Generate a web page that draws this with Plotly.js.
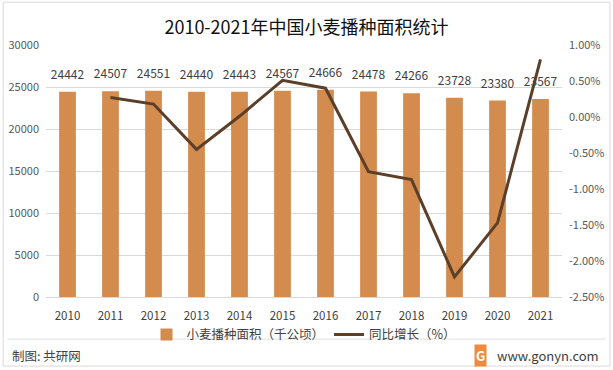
<!DOCTYPE html>
<html><head><meta charset="utf-8">
<script src="https://cdn.plot.ly/plotly-3.0.1.min.js"></script>
<style>html,body{margin:0;padding:0;background:#fff;}#c{width:613px;height:370px;}</style>
</head><body><div id="c"></div>
<script>
const years = ['2010','2011','2012','2013','2014','2015','2016','2017','2018','2019','2020','2021'];
const area = [24442,24507,24551,24440,24443,24567,24666,24478,24266,23728,23380,23567];
const growthYears = ['2011','2012','2013','2014','2015','2016','2017','2018','2019','2020','2021'];
const growth = [0.27,0.18,-0.45,0.01,0.51,0.40,-0.76,-0.87,-2.22,-1.47,0.80];
const leftTicks = [0,5000,10000,15000,20000,25000,30000];
const rightTicks = [-2.5,-2.0,-1.5,-1.0,-0.5,0,0.5,1.0];
const rightTickText = ['-2.50%','-2.00%','-1.50%','-1.00%','-0.50%','0.00%','0.50%','1.00%'];

const F = 'Noto Sans CJK SC, Noto Sans, sans-serif';
const traces = [
  {type:'bar', x:years, y:area, name:'小麦播种面积（千公顷）', marker:{color:'#D38C4E'}, hoverinfo:'none'},
  {type:'scatter', mode:'text+markers', x:years, y:area, text:area.map(String), textposition:'top center',
   marker:{size:14, color:'rgba(0,0,0,0)'},
   textfont:{family:F,size:12,color:'#404040'}, showlegend:false, hoverinfo:'none', cliponaxis:false},
  {type:'scatter', mode:'lines', x:growthYears, y:growth, yaxis:'y2', name:'同比增长（%）',
   line:{color:'#5C3F28',width:3}, hoverinfo:'none'}
];
const layout = {
  width:613, height:370, margin:{l:46,r:51,t:45,b:73},
  paper_bgcolor:'#fff', plot_bgcolor:'#fff',
  font:{family:F,size:11,color:'#404040'},
  title:{text:'2010-2021年中国小麦播种面积统计', x:0.5, xanchor:'center', y:0.925, yanchor:'middle',
         font:{family:F,size:18,color:'#111'}},
  bargap:0.61, showlegend:true,
  legend:{orientation:'h', x:0.5, xanchor:'center', y:-0.15, yanchor:'middle', bgcolor:'rgba(0,0,0,0)',
          font:{family:F,size:12.5,color:'#404040'}, traceorder:'normal'},
  xaxis:{type:'category', range:[-0.5,11.5], autorange:false, tickfont:{family:F,size:11.5,color:'#404040'}, showline:true,
         linecolor:'#d9d9d9', ticks:'', showgrid:false, ticklabelstandoff:8},
  yaxis:{range:[0,30000], tickvals:leftTicks, ticktext:leftTicks.map(String), showgrid:true,
         gridcolor:'#d9d9d9', zeroline:false, ticks:'', tickfont:{family:F,size:11,color:'#595959'}, ticklabelstandoff:6},
  yaxis2:{overlaying:'y', side:'right', range:[-2.5,1.0], tickvals:rightTicks, ticktext:rightTickText,
          showgrid:false, zeroline:false, ticks:'', tickfont:{family:F,size:11,color:'#595959'}, ticklabelstandoff:6},
  shapes:[
    {type:'rect', xref:'paper', yref:'paper', x0:-0.083, x1:1.093, y0:-0.274, y1:1.17, line:{color:'#d9d9d9',width:1}, layer:'below'},
    {type:'line', xref:'paper', yref:'paper', x0:-0.075, x1:1.085, y0:-0.167, y1:-0.167, line:{color:'#e0e0e0',width:1}}
  ],
  annotations:[
    {text:'制图: 共研网', xref:'paper', yref:'paper', x:-0.07, y:-0.234, xanchor:'left', yanchor:'middle', showarrow:false,
     font:{family:F,size:12.5,color:'#404040'}},
    {text:'<b>G</b>', xref:'paper', yref:'paper', x:0.842, y:-0.234, xanchor:'center', yanchor:'middle', showarrow:false,
     font:{family:F,size:13,color:'#fff'}, bgcolor:'#F08A3C', borderpad:1},
    {text:'www.gonyn.com', xref:'paper', yref:'paper', x:1.075, y:-0.234, xanchor:'right', yanchor:'middle', showarrow:false,
     font:{family:F,size:13,color:'#404040'}}
  ]
};
Plotly.newPlot('c', traces, layout, {staticPlot:true});
</script></body></html>
